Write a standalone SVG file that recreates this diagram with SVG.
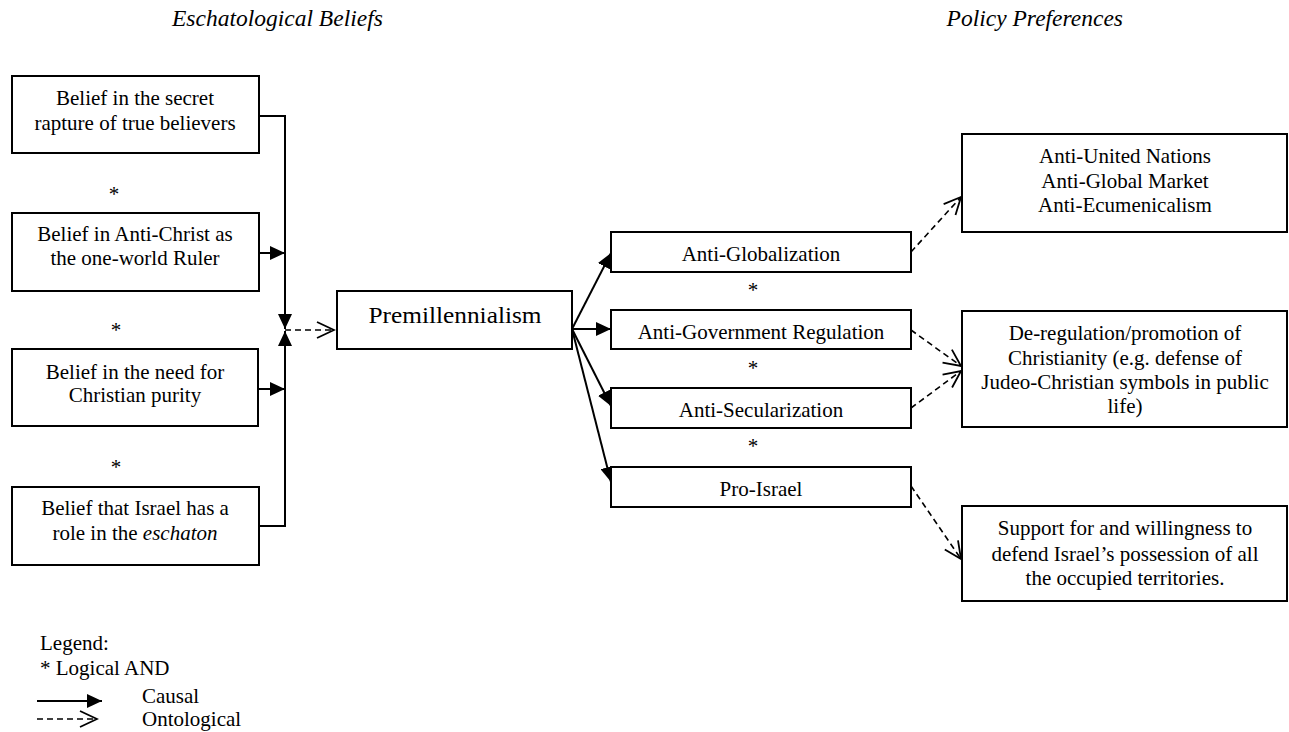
<svg xmlns="http://www.w3.org/2000/svg" width="1289" height="732" viewBox="0 0 1289 732">
<defs>
<style>
text{font-family:"Liberation Serif","Times New Roman",serif;font-size:21px;fill:#000}
.c{text-anchor:middle}
.h{font-style:italic;font-size:23.5px}
.box{fill:#fff;stroke:#000;stroke-width:2}
.s{fill:none;stroke:#000;stroke-width:2}
.d{fill:none;stroke:#000;stroke-width:1.6;stroke-dasharray:6 4}
</style>
<marker id="fa" markerUnits="userSpaceOnUse" markerWidth="16" markerHeight="14" refX="15" refY="7" orient="auto">
<path d="M0,0 L15,7 L0,14 z" fill="#000"/>
</marker>
<marker id="oa" markerUnits="userSpaceOnUse" markerWidth="20" markerHeight="20" refX="18" refY="9" orient="auto">
<path d="M1,1 L18,9 L1,17" fill="none" stroke="#000" stroke-width="1.8"/>
</marker>
</defs>

<text class="h" x="172" y="26">Eschatological Beliefs</text>
<text class="h" x="1123" y="26" text-anchor="end">Policy Preferences</text>

<g id="connectors">
<polyline class="s" points="259,116 285,116 285,329" marker-end="url(#fa)"/>
<line class="s" x1="259" y1="253" x2="285" y2="253" marker-end="url(#fa)"/>
<line class="s" x1="258" y1="389" x2="285" y2="389" marker-end="url(#fa)"/>
<polyline class="s" points="259,526 285,526 285,331" marker-end="url(#fa)"/>
<line class="d" x1="285" y1="330" x2="334" y2="330" marker-end="url(#oa)"/>
<line class="s" x1="572" y1="329" x2="611" y2="253" marker-end="url(#fa)"/>
<line class="s" x1="572" y1="329" x2="611" y2="329" marker-end="url(#fa)"/>
<line class="s" x1="572" y1="329" x2="611" y2="406" marker-end="url(#fa)"/>
<line class="s" x1="572" y1="329" x2="611" y2="482" marker-end="url(#fa)"/>
<line class="d" x1="911" y1="252" x2="961" y2="197" marker-end="url(#oa)"/>
<line class="d" x1="911" y1="330" x2="961" y2="366" marker-end="url(#oa)"/>
<line class="d" x1="911" y1="408" x2="961" y2="371" marker-end="url(#oa)"/>
<line class="d" x1="911" y1="486" x2="961" y2="559" marker-end="url(#oa)"/>
</g>

<g id="belief-rapture">
<rect class="box" x="12" y="76" width="247" height="77"/>
<text class="c" x="135" y="105">Belief in the secret</text>
<text class="c" x="135" y="130">rapture of true believers</text>
</g>
<g id="and-1"><text class="c" x="114" y="201">*</text></g>
<g id="belief-antichrist">
<rect class="box" x="12" y="213" width="247" height="78"/>
<text class="c" x="135" y="241">Belief in Anti-Christ as</text>
<text class="c" x="135" y="265">the one-world Ruler</text>
</g>
<g id="and-2"><text class="c" x="116" y="337">*</text></g>
<g id="belief-purity">
<rect class="box" x="12" y="349" width="246" height="77"/>
<text class="c" x="135" y="379">Belief in the need for</text>
<text class="c" x="135" y="402">Christian purity</text>
</g>
<g id="and-3"><text class="c" x="116" y="474">*</text></g>
<g id="belief-israel">
<rect class="box" x="12" y="487" width="247" height="78"/>
<text class="c" x="135" y="515">Belief that Israel has a</text>
<text class="c" x="135" y="540">role in the <tspan font-style="italic">eschaton</tspan></text>
</g>

<g id="premillennialism">
<rect class="box" x="337" y="291" width="235" height="58"/>
<text class="c" x="455" y="323" style="font-size:24px" textLength="173" lengthAdjust="spacingAndGlyphs">Premillennialism</text>
</g>

<g id="anti-globalization">
<rect class="box" x="611" y="232" width="300" height="40"/>
<text class="c" x="761" y="261">Anti-Globalization</text>
</g>
<g id="and-4"><text class="c" x="753" y="297">*</text></g>
<g id="anti-government">
<rect class="box" x="611" y="310" width="300" height="39"/>
<text class="c" x="761" y="339">Anti-Government Regulation</text>
</g>
<g id="and-5"><text class="c" x="753" y="375">*</text></g>
<g id="anti-secularization">
<rect class="box" x="611" y="388" width="300" height="40"/>
<text class="c" x="761" y="417">Anti-Secularization</text>
</g>
<g id="and-6"><text class="c" x="753" y="453">*</text></g>
<g id="pro-israel">
<rect class="box" x="611" y="467" width="300" height="40"/>
<text class="c" x="761" y="496">Pro-Israel</text>
</g>

<g id="policy-anti-un">
<rect class="box" x="962" y="134" width="325" height="98"/>
<text class="c" x="1125" y="163">Anti-United Nations</text>
<text class="c" x="1125" y="188">Anti-Global Market</text>
<text class="c" x="1125" y="212">Anti-Ecumenicalism</text>
</g>
<g id="policy-deregulation">
<rect class="box" x="962" y="311" width="325" height="116"/>
<text class="c" x="1125" y="340">De-regulation/promotion of</text>
<text class="c" x="1125" y="365">Christianity (e.g. defense of</text>
<text class="c" x="1125" y="389">Judeo-Christian symbols in public</text>
<text class="c" x="1125" y="413">life)</text>
</g>
<g id="policy-israel">
<rect class="box" x="962" y="506" width="325" height="95"/>
<text class="c" x="1125" y="535">Support for and willingness to</text>
<text class="c" x="1125" y="561">defend Israel’s possession of all</text>
<text class="c" x="1125" y="585">the occupied territories.</text>
</g>

<g id="legend">
<text x="40" y="650">Legend:</text>
<text x="40" y="675">* Logical AND</text>
<line class="s" x1="37" y1="701" x2="102" y2="701" marker-end="url(#fa)"/>
<line class="d" x1="37" y1="719" x2="97" y2="719" marker-end="url(#oa)"/>
<text x="142" y="703">Causal</text>
<text x="142" y="726">Ontological</text>
</g>
</svg>
